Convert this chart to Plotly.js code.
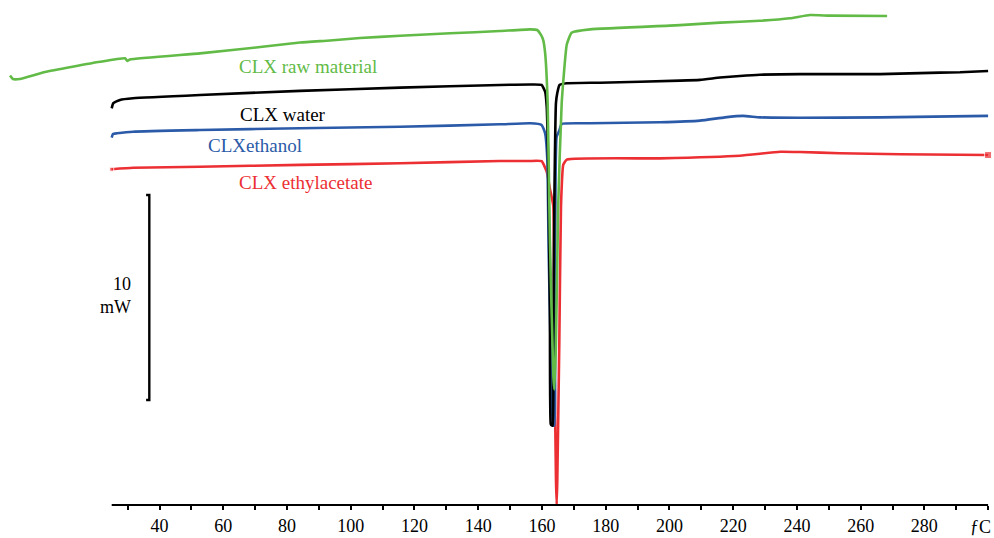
<!DOCTYPE html>
<html>
<head>
<meta charset="utf-8">
<script src="https://cdn.plot.ly/plotly-3.0.1.min.js"></script>
<style>html,body{margin:0;padding:0;background:#fff;}#chart{width:994px;height:538px;}</style>
</head>
<body>
<div id="chart"></div>
<script>
// Temperatures (°C) and heat flow (mW, arbitrary offset)
const rawT = [-6.9, -6.0, -3.8, 4.1, 21.3, 29.2, 29.9, 30.7, 52.7, 71.6, 84.1, 93.5, 102.9, 115.5, 131.2, 146.8, 156.3, 158.5, 159.7, 160.4, 161.0, 161.8, 162.5, 163.6, 163.9, 164.4, 165.1, 166.2, 167.8, 169.3, 175.1, 203.3, 215.9, 228.4, 237.8, 244.1, 250.4, 268.3];
const rawV = [20.95, 20.78, 20.78, 21.12, 21.62, 21.79, 21.66, 21.73, 22.03, 22.34, 22.56, 22.66, 22.78, 22.89, 23.01, 23.12, 23.20, 23.17, 22.93, 22.68, 22.05, 19.61, 12.93, 6.22, 5.63, 7.90, 14.59, 19.61, 22.46, 23.04, 23.20, 23.41, 23.53, 23.62, 23.74, 23.90, 23.87, 23.85];

const waterT = [25.0, 25.5, 27.6, 31.7, 52.7, 84.1, 115.5, 146.8, 156.3, 159.9, 161.0, 161.5, 162.0, 162.5, 162.75, 163.06, 163.37, 163.56, 163.88, 164.4, 164.8, 165.5, 167.8, 178.2, 203.3, 209.6, 215.9, 222.1, 228.4, 241.0, 266.1, 284.9, 291.2, 300.0];
const waterV = [19.35, 19.60, 19.76, 19.84, 20.00, 20.20, 20.36, 20.49, 20.51, 20.49, 20.16, 19.43, 16.26, 9.57, 3.96, 3.88, 3.88, 7.90, 14.59, 19.61, 20.08, 20.49, 20.57, 20.60, 20.70, 20.74, 20.85, 20.93, 20.99, 21.02, 21.02, 21.09, 21.11, 21.17];

const ethanolT = [25.0, 25.4, 26.7, 31.7, 52.7, 84.1, 115.5, 146.8, 156.3, 159.9, 161.0, 161.7, 162.1, 162.8, 163.47, 163.88, 164.1, 164.6, 165.5, 166.2, 175.1, 197.0, 209.6, 217.4, 223.1, 228.4, 241.0, 266.1, 300.0];
const ethanolV = [17.92, 18.10, 18.13, 18.21, 18.29, 18.38, 18.45, 18.57, 18.62, 18.54, 18.13, 16.83, 12.44, 7.07, 3.88, 3.88, 8.54, 17.95, 18.29, 18.59, 18.62, 18.67, 18.75, 18.91, 18.98, 18.91, 18.89, 18.91, 18.98];

const ethylT = [25.0, 31.7, 52.7, 84.1, 115.5, 146.8, 155.9, 159.9, 161.5, 162.5, 163.56, 163.88, 164.41, 164.63, 164.82, 165.45, 165.98, 166.7, 167.8, 197.0, 222.1, 234.7, 241.0, 253.5, 272.4, 300.0];
const ethylV = [16.38, 16.45, 16.50, 16.59, 16.67, 16.78, 16.78, 16.77, 16.26, 15.43, 14.59, 7.90, 1.22, 0.02, 1.22, 7.90, 14.59, 16.60, 16.85, 16.91, 17.04, 17.23, 17.22, 17.16, 17.11, 17.07];

const seriesNames = ["CLX raw material", "CLX water", "CLXethanol", "CLX ethylacetate"];
const seriesColors = ["#62bb47", "#000000", "#2b5ba8", "#ec2f33"];

const tickVals = [30, 40, 50, 60, 70, 80, 90, 100, 110, 120, 130, 140, 150, 160, 170, 180, 190, 200, 210, 220, 230, 240, 250, 260, 270, 280, 290, 300];
const tickText = ["", "40", "", "60", "", "80", "", "100", "", "120", "", "140", "", "160", "", "180", "", "200", "", "220", "", "240", "", "260", "", "280", "", ""];
const unitLabel = "ƒC";

const axisStart = 25, axisEnd = 300;
const scaleBarMW = 10, scaleBarBase = 5.12, scaleBarT = 36.8;

const FONT = "Times New Roman, Liberation Serif, serif";

const mk = (x, y, i, extra) => Object.assign({
  x: x, y: y, type: "scatter", mode: "lines", name: seriesNames[i],
  line: {color: seriesColors[i], width: 2.6, shape: "spline", smoothing: 0.4},
  hoverinfo: "skip", showlegend: false
}, extra || {});

const ethylSizes = ethylT.map((_, i) => (i === ethylT.length - 1 ? 7 : (i === 0 ? 4 : 0)));

const traces = [
  mk(ethylT, ethylV, 3, {mode: "lines+markers", marker: {size: ethylSizes, symbol: "square", color: seriesColors[3]}}),
  mk(ethanolT, ethanolV, 2),
  mk(waterT, waterV, 1),
  mk(rawT, rawV, 0)
];

const labelPos = [
  {x: 64.4, y: 21.37},
  {x: 64.6, y: 19.07},
  {x: 54.6, y: 17.56},
  {x: 64.4, y: 15.71}
];

const annotations = seriesNames.map((n, i) => ({
  x: labelPos[i].x, y: labelPos[i].y, xref: "x", yref: "y",
  text: n, showarrow: false, xanchor: "left", yanchor: "middle",
  font: {family: FONT, size: 19, color: seriesColors[i]}
}));
annotations.push({
  x: 31.7, y: scaleBarBase + scaleBarMW / 2 + 0.1, xref: "x", yref: "y",
  text: scaleBarMW + "<br>mW", showarrow: false, xanchor: "right", yanchor: "middle", align: "right",
  font: {family: FONT, size: 18, color: "#000"}
});
annotations.push({
  x: 297.5, y: 0, xref: "x", yref: "paper", yshift: -22,
  text: unitLabel, showarrow: false, xanchor: "center", yanchor: "middle",
  font: {family: FONT, size: 18, color: "#000"}
});

const shapes = [
  {type: "line", xref: "x", yref: "paper", x0: axisStart, x1: axisEnd, y0: 0, y1: 0, line: {color: "#000", width: 2.2}},
  {type: "path", xref: "x", yref: "y",
   path: "M " + (scaleBarT - 1) + "," + (scaleBarBase + scaleBarMW) + " L " + scaleBarT + "," + (scaleBarBase + scaleBarMW) +
         " L " + scaleBarT + "," + scaleBarBase + " L " + (scaleBarT - 1) + "," + scaleBarBase,
   line: {color: "#000", width: 2.4}}
];

const layout = {
  width: 994, height: 538,
  margin: {l: 0, r: 0, t: 0, b: 33, pad: 0},
  paper_bgcolor: "#fff", plot_bgcolor: "#fff",
  showlegend: false,
  font: {family: FONT},
  xaxis: {
    range: [-10.05, 301.85], showgrid: false, zeroline: false, showline: false,
    tickmode: "array", tickvals: tickVals, ticktext: tickText,
    ticks: "outside", ticklen: 4, tickwidth: 2, tickcolor: "#000",
    tickfont: {family: FONT, size: 18, color: "#000"}, ticklabelstandoff: 0,
    fixedrange: true
  },
  yaxis: {range: [0, 24.634], visible: false, fixedrange: true},
  annotations: annotations,
  shapes: shapes
};

Plotly.newPlot("chart", traces, layout, {displayModeBar: false, staticPlot: true});
</script>
</body>
</html>
